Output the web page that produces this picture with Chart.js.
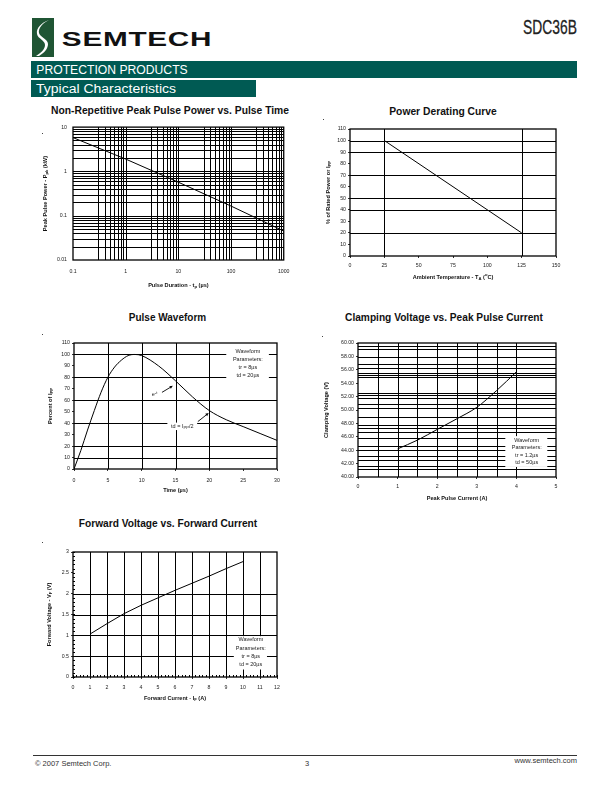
<!DOCTYPE html>
<html><head><meta charset="utf-8">
<script src="https://cdn.jsdelivr.net/npm/chart.js@4.4.1/dist/chart.umd.min.js"></script>
<style>
html,body{margin:0;padding:0;background:#fff;}
body{width:612px;height:792px;position:relative;overflow:hidden;font-family:"Liberation Sans",Arial,sans-serif;color:#111;}
.abs{position:absolute;white-space:nowrap;}
canvas{position:absolute;}
.fit{position:absolute;white-space:nowrap;transform-origin:50% 50%;}
.bar{position:absolute;background:#005a53;color:#fff;}
.dot{position:absolute;width:1px;height:1px;background:#444;}
</style></head><body>

<!-- header -->
<svg class="abs" style="left:32px;top:18px" width="22" height="39" viewBox="0 0 22 39">
  <rect x="0" y="0" width="22" height="39" fill="#1f5534"/>
  <path d="M17 2 C 9 5, 4 10, 5 16 C 6 21, 13 22, 13 27 C 13 31, 9 35, 4 38 L 7 38 C 12 35, 16 31, 16 26 C 16 21, 8 19, 7 15 C 6 10, 11 5, 17 2 Z" fill="#fff"/>
</svg>
<div id="semtech" class="fit" data-cx="137" data-cy="39" data-w="150" style="font-weight:900;font-size:21px;letter-spacing:0.5px;color:#111;">SEMTECH</div>
<div id="part" class="fit" data-cx="550" data-cy="27" data-w="54" style="font-size:20px;font-weight:normal;color:#222;-webkit-text-stroke:0.3px #222;">SDC36B</div>
<div class="bar" style="left:31px;top:61px;width:546px;height:17px;"></div>
<div class="fit" data-cx="112" data-cy="69.5" data-w="151" style="color:#fff;font-size:12px;">PROTECTION PRODUCTS</div>
<div class="bar" style="left:31px;top:80px;width:225px;height:17px;"></div>
<div class="fit" data-cx="106" data-cy="88.5" data-w="140" style="color:#fff;font-size:12.5px;">Typical Characteristics</div>

<!-- chart titles -->
<div class="fit" data-cx="169.5" data-cy="110" data-w="238" style="font-weight:bold;font-size:10px;">Non-Repetitive Peak Pulse Power vs. Pulse Time</div>
<div class="fit" data-cx="443.3" data-cy="111" data-w="107" style="font-weight:bold;font-size:10px;">Power Derating Curve</div>
<div class="fit" data-cx="167.5" data-cy="316.7" data-w="77" style="font-weight:bold;font-size:10px;">Pulse Waveform</div>
<div class="fit" data-cx="443.8" data-cy="316.7" data-w="198" style="font-weight:bold;font-size:10px;">Clamping Voltage vs. Peak Pulse Current</div>
<div class="fit" data-cx="167.7" data-cy="523.3" data-w="178" style="font-weight:bold;font-size:10px;">Forward Voltage vs. Forward Current</div>

<div class="dot" style="left:42px;top:133px"></div>
<div class="dot" style="left:323px;top:119px"></div>
<div class="dot" style="left:42px;top:334px"></div>
<div class="dot" style="left:322px;top:336px"></div>
<div class="dot" style="left:42px;top:542px"></div>

<canvas id="c1"></canvas>
<canvas id="c2"></canvas>
<canvas id="c3"></canvas>
<canvas id="c4"></canvas>
<canvas id="c5"></canvas>

<!-- footer -->
<div class="abs" style="left:33px;top:755px;width:544px;height:1px;background:#333;"></div>
<div class="abs" style="left:35px;top:759px;font-size:7.5px;color:#333;">© 2007 Semtech Corp.</div>
<div class="abs" style="left:305px;top:759px;font-size:7.5px;color:#333;">3</div>
<div class="abs" style="right:35px;top:756px;font-size:7.5px;color:#333;">www.semtech.com</div>

<script>
// ---------------- DATA ----------------
// Chart 1: Non-Repetitive Peak Pulse Power vs. Pulse Time (log-log)
const ppDuration = [0.1, 1, 10, 100, 1000];
const ppPower    = [5.8, 1.9, 0.57, 0.165, 0.045];
const ppXTicks  = [0.1, 1, 10, 100, 1000];
const ppXLabels = ['0.1', '1', '10', '100', '1000'];
const ppYTicks  = [0.01, 0.1, 1, 10];
const ppYLabels = ['0.01', '0.1', '1', '10'];
const ppMinorX  = [3, 4, 5, 6, 7, 8, 9];
const ppMinorY  = [2, 3, 4, 5, 6, 7, 8, 9];

// Chart 2: Power Derating Curve
const drTemp = [25, 125];
const drPct  = [100, 20];
const drXTicks  = [0, 25, 50, 75, 100, 125, 150];
const drXLabels = ['0', '25', '50', '75', '100', '125', '150'];
const drYTicks  = [0, 10, 20, 30, 40, 50, 60, 70, 80, 90, 100, 110];
const drYLabels = ['0', '10', '20', '30', '40', '50', '60', '70', '80', '90', '100', '110'];
const drGridX = [25, 125];
const drGridY = [20, 40, 50, 70, 90, 100];

// Chart 3: Pulse Waveform
const pwTime = [0, 1, 2, 3, 4, 5, 6, 7, 8, 9, 10, 12.5, 15, 17.5, 20, 22.5, 25, 27.5, 30];
const pwPct  = [0, 16, 34, 51, 67, 80, 89, 95, 99, 100, 99, 90, 77, 63, 51, 43, 37, 31, 25];
const pwXTicks  = [0, 5, 10, 15, 20, 25, 30];
const pwXLabels = ['0', '5', '10', '15', '20', '25', '30'];
const pwYTicks  = [0, 10, 20, 30, 40, 50, 60, 70, 80, 90, 100, 110];
const pwYLabels = ['0', '10', '20', '30', '40', '50', '60', '70', '80', '90', '100', '110'];
const pwGridX = [5, 10, 15, 20];
const pwGridY = [10, 20, 40, 60, 80, 100];

// Chart 4: Clamping Voltage vs. Peak Pulse Current
const cvCurrent = [1, 1.5, 2, 2.5, 3, 3.5, 4];
const cvVolt    = [44.2, 45.5, 47.1, 48.7, 50.4, 52.9, 55.7];
const cvXTicks  = [0, 1, 2, 3, 4, 5];
const cvXLabels = ['0', '1', '2', '3', '4', '5'];
const cvYTicks  = [40, 42, 44, 46, 48, 50, 52, 54, 56, 58, 60];
const cvYLabels = ['40.00', '42.00', '44.00', '46.00', '48.00', '50.00', '52.00', '54.00', '56.00', '58.00', '60.00'];
const cvGridX = [0.5, 1, 1.5, 2, 2.5, 3, 3.5, 4];
const cvGridY = [41.2, 41.7, 42.5, 43.1, 44.1, 44.7, 45.8, 46.7, 47.3, 47.7, 48.9, 50.3, 50.9, 51.8, 52.2, 52.6, 54.9, 55.2, 55.5, 56.3, 56.8, 57.9, 59.1, 59.5];

// Chart 5: Forward Voltage vs. Forward Current
const fvCurrent = [1, 2, 3, 4, 5, 6, 7, 8, 9, 10];
const fvVolt    = [1.03, 1.28, 1.52, 1.72, 1.9, 2.08, 2.25, 2.42, 2.6, 2.77];
const fvXTicks  = [0, 1, 2, 3, 4, 5, 6, 7, 8, 9, 10, 11, 12];
const fvXLabels = ['0', '1', '2', '3', '4', '5', '6', '7', '8', '9', '10', '11', '12'];
const fvYTicks  = [0, 0.5, 1, 1.5, 2, 2.5, 3];
const fvYLabels = ['0', '0.5', '1', '1.5', '2', '2.5', '3'];
const fvGridX = [1, 2, 3, 4, 5, 6, 7, 8, 9, 10, 11];
const fvGridY = [0.5, 1, 1.5, 2];

// ---------------- HELPERS ----------------
const FAM = '"Liberation Sans", Arial, sans-serif';
function segsOf(line){ return (Array.isArray(line)?line:[line]).map(s=>typeof s==='string'?{t:s}:s); }
function drawRich(ctx, line, x, y, size, bold){
  const segs = segsOf(line);
  const fnt = s => `${bold?'bold ':''}${(s.sub||s.sup)?size*0.75:size}px ${FAM}`;
  let w = 0;
  segs.forEach(s=>{ ctx.font = fnt(s); s.w = ctx.measureText(s.t).width; w += s.w; });
  let cx = x - w/2;
  ctx.textAlign = 'left'; ctx.textBaseline = 'middle';
  segs.forEach(s=>{
    ctx.font = fnt(s);
    const dy = s.sub ? size*0.3 : (s.sup ? -size*0.35 : 0);
    ctx.fillText(s.t, cx, y+dy); cx += s.w;
  });
}

const sheetPlugin = {
  id: 'sheet',
  beforeDatasetsDraw(chart){
    const o = chart.options.plugins.sheet || {};
    const ctx = chart.ctx, a = chart.chartArea, xs = chart.scales.x, ys = chart.scales.y;
    ctx.save();
    ctx.strokeStyle = '#000'; ctx.lineWidth = 1;
    ctx.beginPath();
    (o.gridX||[]).forEach(v=>{ const p = Math.round(xs.getPixelForValue(v))+0.5; ctx.moveTo(p, a.top); ctx.lineTo(p, a.bottom); });
    (o.gridY||[]).forEach(v=>{ const p = Math.round(ys.getPixelForValue(v))+0.5; ctx.moveTo(a.left, p); ctx.lineTo(a.right, p); });
    ctx.stroke();
    if (o.minorX){
      ctx.beginPath();
      for (let v = xs.min; v <= xs.max + 1e-9; v += o.minorX){ const p = Math.round(xs.getPixelForValue(v))+0.5; ctx.moveTo(p, a.bottom); ctx.lineTo(p, a.bottom-2); }
      ctx.stroke();
    }
    if (o.minorY){
      ctx.beginPath();
      for (let v = ys.min; v <= ys.max + 1e-9; v += o.minorY){ const p = Math.round(ys.getPixelForValue(v))+0.5; ctx.moveTo(a.left, p); ctx.lineTo(a.left+2, p); }
      ctx.stroke();
    }
    ctx.fillStyle = '#fff';
    (o.boxes||[]).forEach(b=>{
      const x0 = xs.getPixelForValue(b.x0), x1 = xs.getPixelForValue(b.x1);
      const y0 = ys.getPixelForValue(b.y0), y1 = ys.getPixelForValue(b.y1);
      ctx.fillRect(Math.min(x0,x1), Math.min(y0,y1), Math.abs(x1-x0), Math.abs(y1-y0));
    });
    ctx.restore();
  },
  afterDatasetsDraw(chart){
    const o = chart.options.plugins.sheet || {};
    const ctx = chart.ctx, a = chart.chartArea, xs = chart.scales.x, ys = chart.scales.y;
    ctx.save();
    ctx.strokeStyle = '#000'; ctx.lineWidth = 1.3;
    ctx.strokeRect(a.left, a.top, a.right-a.left, a.bottom-a.top);
    ctx.fillStyle = '#222';
    (o.texts||[]).forEach(t=>{
      const x = xs.getPixelForValue(t.x); let y = ys.getPixelForValue(t.y);
      t.lines.forEach(l=>{ drawRich(ctx, l, x, y, t.size||5.5, false); y += t.lh||7.8; });
    });
    ctx.strokeStyle = '#000'; ctx.fillStyle = '#000'; ctx.lineWidth = 0.9;
    (o.arrows||[]).forEach(r=>{
      const x0 = xs.getPixelForValue(r.from[0]), y0 = ys.getPixelForValue(r.from[1]);
      const x1 = xs.getPixelForValue(r.to[0]), y1 = ys.getPixelForValue(r.to[1]);
      const ang = Math.atan2(y1-y0, x1-x0), L = 3.5;
      ctx.beginPath(); ctx.moveTo(x0,y0); ctx.lineTo(x1 - Math.cos(ang)*L*0.8, y1 - Math.sin(ang)*L*0.8); ctx.stroke();
      ctx.beginPath(); ctx.moveTo(x1,y1);
      ctx.lineTo(x1 - L*Math.cos(ang-0.45), y1 - L*Math.sin(ang-0.45));
      ctx.lineTo(x1 - L*Math.cos(ang+0.45), y1 - L*Math.sin(ang+0.45));
      ctx.closePath(); ctx.fill();
    });
    ctx.fillStyle = '#111';
    if (o.xTitle){ drawRich(ctx, o.xTitle.segs, (a.left+a.right)/2, a.bottom + o.xTitle.dy, 5.6, true); }
    if (o.yTitle){
      ctx.translate(a.left - o.yTitle.dx, (a.top+a.bottom)/2); ctx.rotate(-Math.PI/2);
      drawRich(ctx, o.yTitle.segs, 0, 0, 5.6, true);
    }
    ctx.restore();
  }
};
Chart.register(sheetPlugin);

function makeChart(id, L){
  const cv = document.getElementById(id);
  cv.width = L.cw; cv.height = L.ch;
  cv.style.left = L.cl + 'px'; cv.style.top = L.ct + 'px';
  cv.style.width = L.cw + 'px'; cv.style.height = L.ch + 'px';
  const yW = L.pl - L.cl, padTop = L.pt - L.ct, padRight = (L.cl + L.cw) - L.pr, xH = (L.ct + L.ch) - L.pb;
  const tickFont = {size: 5.2, family: FAM};
  const scaleX = Object.assign({
    afterFit: s => { s.height = xH; },
    afterBuildTicks: s => { s.ticks = L.xTicks.map(v => ({value: v})); },
    ticks: {font: tickFont, color: '#222', padding: L.xPad, maxRotation: 0, minRotation: 0, autoSkip: false,
            callback: (v, i) => L.xLabels[i]},
    grid: {display: true, drawOnChartArea: false, tickLength: L.tick, color: '#000', lineWidth: 0.8},
    border: {display: false}
  }, L.x);
  const scaleY = Object.assign({
    afterFit: s => { s.width = yW; },
    afterBuildTicks: s => { s.ticks = L.yTicks.map(v => ({value: v})); },
    ticks: {font: tickFont, color: '#222', padding: L.yPad, autoSkip: false,
            callback: (v, i) => L.yLabels[i]},
    grid: {display: true, drawOnChartArea: false, tickLength: L.tick, color: '#000', lineWidth: 0.8},
    border: {display: false}
  }, L.y);
  return new Chart(cv, {
    type: 'line',
    data: {datasets: [{data: L.xs.map((x, i) => ({x: x, y: L.ys[i]})), borderColor: '#000', borderWidth: 1,
                       pointRadius: 0, fill: false, tension: 0, cubicInterpolationMode: L.cubic || 'default'}]},
    options: {
      responsive: false, animation: false, devicePixelRatio: 1,
      layout: {padding: {left: 0, top: padTop, right: padRight, bottom: 0}},
      plugins: {legend: {display: false}, tooltip: {enabled: false}, title: {display: false}, sheet: L.sheet},
      scales: {x: scaleX, y: scaleY}
    }
  });
}

const decades = [0.1, 1, 10, 100];
makeChart('c1', {
  cl: 30, ct: 118, cw: 268, ch: 175, pl: 73, pt: 124, pr: 289, pb: 260, tick: 0, xPad: 8.5, yPad: 6,
  xs: ppDuration, ys: ppPower, xTicks: ppXTicks, xLabels: ppXLabels, yTicks: ppYTicks, yLabels: ppYLabels,
  x: {type: 'logarithmic', min: 0.1, max: 1000}, y: {type: 'logarithmic', min: 0.01, max: 10},
  sheet: {
    gridX: decades.flatMap(d => ppMinorX.map(m => m*d)).concat([1, 10, 100]),
    gridY: [0.01, 0.1, 1].flatMap(d => ppMinorY.map(m => m*d)).concat([0.1, 1]),
    xTitle: {segs: ['Pulse Duration - t', {t: 'p', sub: true}, ' (µs)'], dy: 25},
    yTitle: {segs: ['Peak Pulse Power - P', {t: 'pk', sub: true}, ' (kW)'], dx: 28}
  }
});

makeChart('c2', {
  cl: 312, ct: 122, cw: 258, ch: 165, pl: 350, pt: 129, pr: 556, pb: 256, tick: 2, xPad: 4.5, yPad: 2,
  xs: drTemp, ys: drPct, xTicks: drXTicks, xLabels: drXLabels, yTicks: drYTicks, yLabels: drYLabels,
  x: {type: 'linear', min: 0, max: 150}, y: {type: 'linear', min: 0, max: 110},
  sheet: {
    gridX: drGridX, gridY: drGridY,
    xTitle: {segs: ['Ambient Temperature - T', {t: 'A', sub: true}, ' (', {t: 'o', sup: true}, 'C)'], dy: 21},
    yTitle: {segs: ['% of Rated Power or I', {t: 'PP', sub: true}], dx: 22}
  }
});

makeChart('c3', {
  cl: 32, ct: 335, cw: 258, ch: 165, pl: 74, pt: 343, pr: 277, pb: 469, tick: 2, xPad: 6.5, yPad: 2,
  xs: pwTime, ys: pwPct, xTicks: pwXTicks, xLabels: pwXLabels, yTicks: pwYTicks, yLabels: pwYLabels,
  cubic: 'monotone',
  x: {type: 'linear', min: 0, max: 30}, y: {type: 'linear', min: 0, max: 110},
  sheet: {
    gridX: pwGridX, gridY: pwGridY,
    boxes: [{x0: 22.5, x1: 28.8, y0: 78.5, y1: 106.5}, {x0: 13.8, x1: 18.2, y0: 34, y1: 40.5}],
    texts: [
      {x: 25.7, y: 102.4, lh: 7.8, lines: ['Waveform', 'Parameters:', 'tr = 8µs', 'td = 20µs']},
      {x: 11.9, y: 65.2, lines: [['e', {t: '-t', sup: true}]]},
      {x: 16.0, y: 37.0, lines: [['td = I', {t: 'PP', sub: true}, '/2']]}
    ],
    arrows: [{from: [13.0, 66.9], to: [14.6, 72.6]}, {from: [18.3, 41.4], to: [19.9, 48.8]}],
    xTitle: {segs: ['Time (µs)'], dy: 21},
    yTitle: {segs: ['Percent of I', {t: 'PP', sub: true}], dx: 24}
  }
});

makeChart('c4', {
  cl: 312, ct: 335, cw: 258, ch: 172, pl: 358, pt: 343, pr: 556, pb: 477, tick: 2, xPad: 4.5, yPad: 2,
  xs: cvCurrent, ys: cvVolt, xTicks: cvXTicks, xLabels: cvXLabels, yTicks: cvYTicks, yLabels: cvYLabels,
  cubic: 'monotone',
  x: {type: 'linear', min: 0, max: 5}, y: {type: 'linear', min: 40, max: 60},
  sheet: {
    gridX: cvGridX, gridY: cvGridY,
    boxes: [{x0: 3.72, x1: 4.78, y0: 41.5, y1: 46.1}],
    texts: [{x: 4.26, y: 45.5, lh: 7.5, lines: ['Waveform', 'Parameters:', 'tr = 1.2µs', 'td = 50µs']}],
    xTitle: {segs: ['Peak Pulse Current (A)'], dy: 21},
    yTitle: {segs: ['Clamping Voltage (V)'], dx: 32}
  }
});

makeChart('c5', {
  cl: 32, ct: 545, cw: 258, ch: 162, pl: 73, pt: 552, pr: 277, pb: 677, tick: 2, xPad: 5.5, yPad: 2,
  xs: fvCurrent, ys: fvVolt, xTicks: fvXTicks, xLabels: fvXLabels, yTicks: fvYTicks, yLabels: fvYLabels,
  x: {type: 'linear', min: 0, max: 12}, y: {type: 'linear', min: 0, max: 3},
  sheet: {
    gridX: fvGridX, gridY: fvGridY, minorX: 0.2, minorY: 0.1,
    boxes: [{x0: 9.46, x1: 11.41, y0: 0.18, y1: 0.98}],
    texts: [{x: 10.46, y: 0.89, lh: 8.3, lines: ['Waveform', 'Parameters:', 'tr = 8µs', 'td = 20µs']}],
    xTitle: {segs: ['Forward Current - I', {t: 'F', sub: true}, ' (A)'], dy: 21},
    yTitle: {segs: ['Forward Voltage - V', {t: 'F', sub: true}, ' (V)'], dx: 24}
  }
});

// fit header / title text widths
document.querySelectorAll('.fit').forEach(el => {
  const cx = +el.dataset.cx, cy = +el.dataset.cy, w = +el.dataset.w;
  el.style.left = cx + 'px'; el.style.top = cy + 'px';
  const k = w / el.offsetWidth;
  el.style.transform = `translate(-50%,-50%) scaleX(${k})`;
});
</script>
</body></html>
